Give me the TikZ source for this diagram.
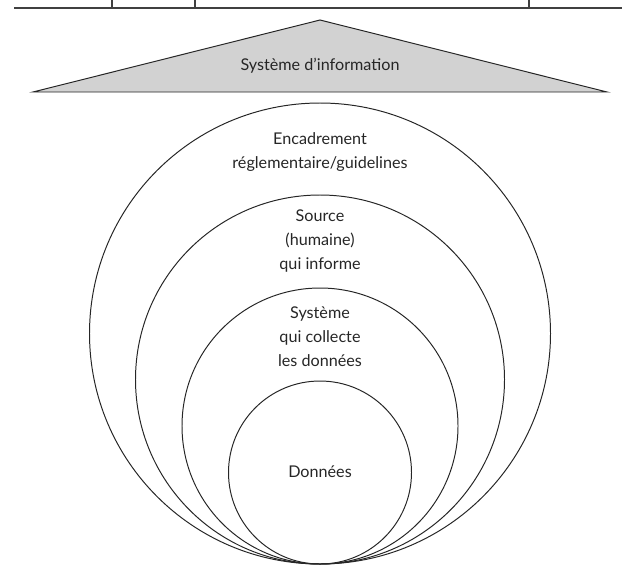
\documentclass[tikz,border=0pt]{standalone}
\usepackage{fontspec}
\setmainfont{Lato}
\usetikzlibrary{positioning}
\newcommand{\px}{0.025cm}

\begin{document}
\begin{tikzpicture}[
  x=\px, y=-\px, line width=0.7pt,
  font=\fontsize{11.5}{17}\selectfont,
  ring/.style={circle, draw=black!85, inner sep=0pt},
  roof/.style={draw=black!85, fill=gray!35, line join=miter},
  caption/.style={align=center, text=black!85},
  rule/.style={draw=black!75, line width=1.1pt}
]
\useasboundingbox (0,0) rectangle (622,572);

% table bottom
\coordinate (r0) at (14,8);
\coordinate (r1) at (622,8);
\draw[rule] (r0) -- (r1);
\foreach \t in {112,195,529}
  \draw[draw=black!75, line width=0.8pt] (\t,0) -- (\t,8);

% roof
\coordinate (apex) at (320,20);
\coordinate (bl) at (33,92);
\coordinate (br) at (607,92);
\draw[roof] (bl) -- (apex) -- (br) -- cycle;
\node[caption] (si) at (320,66) {Système d’information};

% nested circles, all tangent at the bottom
\node[ring, minimum size=461*\px] (c1) at (320,333.5) {};
\node[ring, minimum size=369*\px] (c2) at (320,379.5) {};
\node[ring, minimum size=276*\px] (c3) at (320,426) {};
\node[ring, minimum size=183*\px] (c4) at (320,472.5) {};

\node[caption] (t1) at (320,152) {Encadrement\\réglementaire/guidelines};
\node[caption] (t2) at (320,241) {Source\\(humaine)\\qui informe};
\node[caption] (t3) at (320,337) {Système\\qui collecte\\les données};
\node[caption] (t4) at (320,472) {Données};
\end{tikzpicture}
\end{document}
